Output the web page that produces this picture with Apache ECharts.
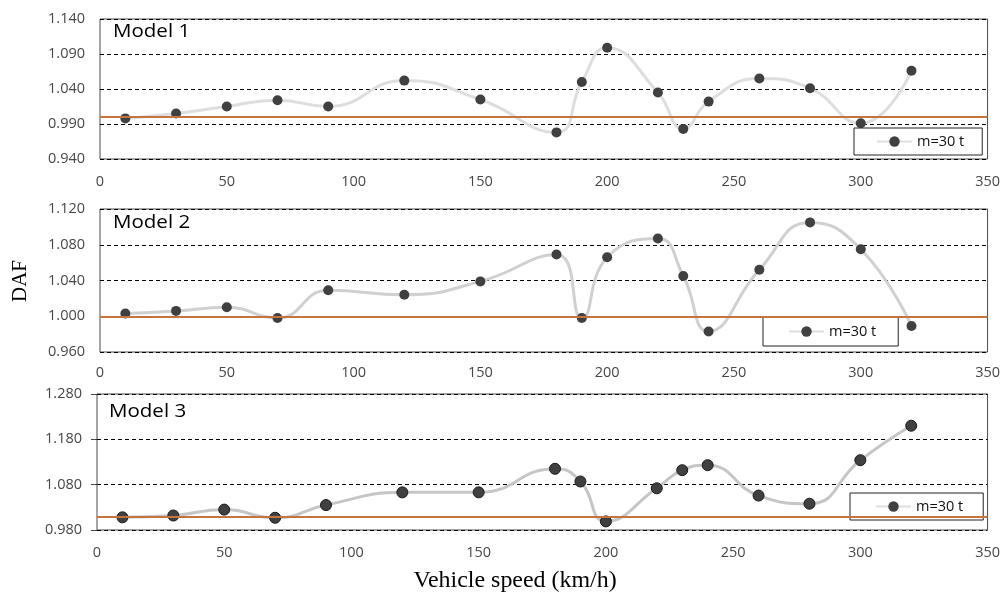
<!DOCTYPE html>
<html>
<head>
<meta charset="utf-8">
<script src="https://cdn.jsdelivr.net/npm/echarts@6/dist/echarts.min.js"></script>
<style>
html,body{margin:0;padding:0;background:#fff;}
#chart{width:1003px;height:592px;}
</style>
</head>
<body>
<div id="chart"></div>
<script>
// ---- data ----
const speeds = [10, 30, 50, 70, 90, 120, 150, 180, 190, 200, 220, 230, 240, 260, 280, 300, 320];
const model1 = [0.998, 1.005, 1.015, 1.024, 1.015, 1.052, 1.025, 0.978, 1.050, 1.099, 1.035, 0.983, 1.022, 1.055, 1.041, 0.991, 1.066];
const model2 = [1.003, 1.006, 1.010, 0.998, 1.029, 1.024, 1.039, 1.069, 0.998, 1.066, 1.087, 1.045, 0.983, 1.052, 1.105, 1.075, 0.989];
const model3 = [1.008, 1.012, 1.025, 1.007, 1.035, 1.063, 1.063, 1.115, 1.087, 0.999, 1.072, 1.112, 1.123, 1.056, 1.038, 1.134, 1.210];
const panelTitles = ['Model 1', 'Model 2', 'Model 3'];
const seriesName = 'm=30 t';
const yMin = [0.94, 0.96, 0.98];
const yMax = [1.14, 1.12, 1.28];
const yStep = [0.05, 0.04, 0.10];
const refLine = [0.998, 1.000, 1.007];
const xMin = 0, xMax = 350, xStep = 50;
const xTitle = 'Vehicle speed (km/h)';
const yTitle = 'DAF';

// ---- layout / style ----
const values = [model1, model2, model3];
const grids = [
  {left: 100, top: 19, width: 890, height: 140},
  {left: 100, top: 209, width: 890, height: 143},
  {left: 97, top: 394, width: 891, height: 136}
];
const legendPos = [
  {left: 854, top: 128, padding: [6, 18, 6, 22]},
  {left: 763, top: 317, padding: [7, 22, 7, 25]},
  {left: 850, top: 493, padding: [6, 20, 6, 25]}
];
const titlePos = [[113, 32], [113, 223], [109, 412]];
const lineColors = ['#dedede', '#d0d0d0', '#c6c6c6'];
const symSizes = [10, 10, 11];
const labelFont = '"Open Sans", sans-serif';
const axisColor = '#474747';

const option = {
  animation: false,
  backgroundColor: '#fff',
  grid: [], xAxis: [], yAxis: [], series: [], legend: [], graphic: []
};

for (let i = 0; i < 3; i++) {
  option.grid.push(Object.assign({show: true, borderColor: '#4a4a4a', borderWidth: 1, backgroundColor: 'transparent'}, grids[i]));
  option.xAxis.push({
    type: 'value', gridIndex: i, min: xMin, max: xMax, interval: xStep,
    axisLine: {show: false}, axisTick: {show: false}, splitLine: {show: false},
    axisLabel: {color: axisColor, fontSize: 14.5, fontFamily: labelFont, margin: i === 1 ? 13 : 15}
  });
  option.yAxis.push({
    type: 'value', gridIndex: i, min: yMin[i], max: yMax[i], interval: yStep[i],
    axisLine: {show: false},
    axisTick: {show: i === 2, length: 6, lineStyle: {color: axisColor}},
    splitLine: {show: true, lineStyle: {color: '#000', type: [4, 3], width: 1}},
    axisLabel: {color: axisColor, fontSize: 14.5, fontFamily: labelFont, margin: 15,
      formatter: v => v.toFixed(3)}
  });
  option.series.push({
    name: seriesName, type: 'line', xAxisIndex: i, yAxisIndex: i,
    data: speeds.map((s, k) => [s, values[i][k]]),
    smooth: 0.5,
    symbol: 'circle', symbolSize: symSizes[i],
    lineStyle: {color: lineColors[i], width: 3},
    itemStyle: {color: '#404040', borderColor: i === 2 ? '#1a1a1a' : '#404040', borderWidth: i === 2 ? 1 : 0},
    z: 3,
    markLine: {
      silent: true, symbol: 'none', label: {show: false},
      lineStyle: {color: '#c8733e', width: 2, type: 'solid'},
      data: [{yAxis: refLine[i]}]
    }
  });
  option.legend.push(Object.assign({
    data: [seriesName], orient: 'horizontal',
    backgroundColor: '#fff', borderColor: '#222', borderWidth: 1,
    itemWidth: 35, itemHeight: 13, itemGap: 5,
    textStyle: {color: '#111', fontSize: 14.5, fontFamily: labelFont},
    selectedMode: false, z: 5
  }, legendPos[i]));
  option.graphic.push({
    type: 'text', x: titlePos[i][0], y: titlePos[i][1], scaleX: 1.14,
    style: {text: panelTitles[i], font: '18px "Open Sans"', fill: '#000', verticalAlign: 'middle'}, z: 10
  });
}
option.graphic.push({
  type: 'text', x: 20, y: 281, rotation: Math.PI / 2,
  style: {text: yTitle, font: '21px "Liberation Serif"', fill: '#000', align: 'center', verticalAlign: 'middle'}
});
option.graphic.push({
  type: 'text', x: 515, y: 581, scaleX: 1.04,
  style: {text: xTitle, font: '23px "Liberation Serif"', fill: '#000', align: 'center', verticalAlign: 'middle'}
});

const chart = echarts.init(document.getElementById('chart'), null, {renderer: 'canvas'});
chart.setOption(option);
</script>
</body>
</html>
